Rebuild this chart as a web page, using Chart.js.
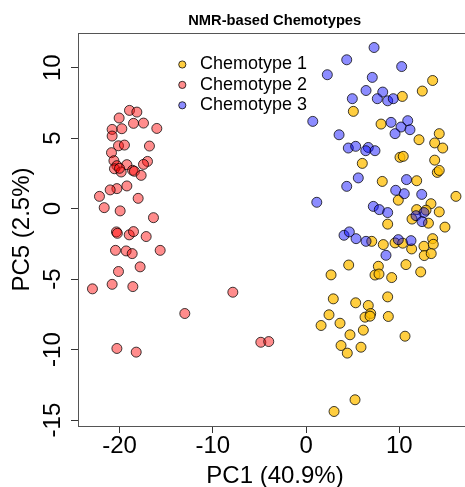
<!DOCTYPE html>
<html>
<head>
<meta charset="utf-8">
<script src="https://cdn.jsdelivr.net/npm/chart.js@4.4.1/dist/chart.umd.min.js"></script>
<style>
  html, body { margin: 0; padding: 0; background: #fff; overflow: hidden; }
  #wrap { width: 465px; height: 487px; }
  #c { display: block; }
</style>
</head>
<body>
<div id="wrap"><canvas id="c" width="465" height="487"></canvas></div>
<script>
// PCA scores (PC1 vs PC5) grouped by NMR-based chemotype
const seriesNames = ['Chemotype 1', 'Chemotype 2', 'Chemotype 3'];

const chemo1X = [13.57, 12.46, 10.32, 5.07, 8.04, 12.11, 14.28, 13.79, 14.65, 10.07, 10.42, 13.79, 6.03,
  14.07, 14.28, 8.17, 11.86, 9.89, 16.07, 13.39, 11.86, 12.86, 14.28, 11.36, 13.12, 14.89, 8.75,
  7.04, 8.28, 9.54, 10.36, 11.32, 12.64, 13.57, 13.64, 12.67, 13.42, 4.57, 10.71, 12.29, 2.68,
  7.75, 7.39, 7.82, 9.18, 2.92, 5.32, 6.67, 8.75, 2.46, 1.61, 3.64, 6.32, 6.93, 6.86, 8.82,
  4.71, 6.14, 10.61, 3.75, 4.42, 5.89, 5.25, 3.00];
const chemo1Y = [9.09, 8.34, 7.96, 6.90, 6.00, 4.89, 5.32, 4.66, 4.30, 3.64, 3.71, 3.44, 3.21,
  2.57, 2.71, 1.93, 1.98, 0.60, 0.87, 0.35, -0.07, -0.11, -0.23, -0.74, -1.03, -1.31, -1.10,
  -2.32, -2.55, -2.43, -2.45, -2.86, -2.67, -2.13, -2.53, -3.33, -3.19, -4.00, -3.97, -4.49, -4.70,
  -4.09, -4.71, -4.64, -4.89, -6.40, -6.68, -6.87, -6.26, -7.53, -8.29, -8.13, -7.70, -7.44, -7.63, -7.65,
  -8.95, -8.62, -9.05, -9.71, -10.25, -9.83, -13.56, -14.39];

const chemo2X = [-18.93, -18.14, -20.04, -18.50, -17.43, -16.00, -20.79, -19.75, -20.79, -20.11, -19.47,
  -16.79, -20.86, -20.60, -17.00, -17.43, -19.21, -20.28, -20.54, -19.82, -20.00, -18.60, -18.40,
  -17.68, -19.21, -20.28, -21.00, -22.15, -18.00, -21.64, -19.93, -16.36, -20.33, -20.23, -18.96,
  -18.50, -17.14, -20.43, -19.29, -18.64, -15.64, -17.79, -20.11, -20.79, -18.57, -22.90, -20.28,
  -18.21, -7.85, -13.00, -4.85, -4.00];
const chemo2Y = [6.97, 6.85, 6.43, 6.05, 6.07, 5.69, 5.62, 5.67, 5.15, 4.46, 4.51,
  4.44, 3.97, 3.40, 3.35, 3.14, 3.12, 3.05, 2.83, 2.60, 2.86, 2.72, 2.65,
  2.36, 1.61, 1.42, 1.33, 0.87, 0.73, 0.07, -0.16, -0.64, -1.65, -1.75, -1.86,
  -1.63, -1.98, -2.96, -3.00, -3.19, -2.96, -4.13, -4.46, -5.37, -5.53, -5.69, -9.92,
  -10.18, -5.93, -7.44, -9.48, -9.43];

const chemo3X = [7.29, 4.36, 2.28, 10.25, 7.10, 6.43, 8.22, 4.96, 7.64, 8.75, 9.35, 0.72, 9.11,
  10.90, 10.18, 11.14, 9.54, 3.54, 4.53, 5.32, 6.67, 6.40, 7.39, 5.60, 4.36, 10.77, 9.61, 10.53,
  12.40, 1.15, 7.21, 7.85, 8.75, 12.64, 11.79, 12.43, 4.07, 4.64, 5.36, 6.43, 9.89, 11.25, 8.57];
const chemo3Y = [11.43, 10.56, 9.50, 10.08, 9.31, 8.38, 8.27, 7.80, 7.80, 7.65, 7.80, 6.19, 6.12,
  6.24, 5.79, 5.60, 5.32, 5.24, 4.30, 4.42, 4.34, 4.11, 4.11, 2.18, 1.58, 2.06, 1.30, 1.06,
  1.01, 0.45, 0.16, -0.07, -0.28, -0.28, -0.50, -0.92, -1.89, -1.65, -2.13, -2.32, -2.20, -2.27, -3.31];

const xTicks = [-20, -10, 0, 10];
const yTicks = [-15, -10, -5, 0, 5, 10];

const FONT = "'Liberation Sans', Arial, Helvetica, sans-serif";
Chart.defaults.font.family = FONT;
Chart.defaults.color = '#000';

const toPoints = (xs, ys) => xs.map((x, i) => ({ x: x, y: ys[i] }));

const fills = ['rgba(255,190,0,0.75)', 'rgba(255,0,0,0.45)', 'rgba(0,0,255,0.45)'];
const edge = 'rgba(0,0,0,0.75)';

// frame top line, titles, tick labels (y ones rotated) and the in-plot key
const decor = {
  id: 'decor',
  afterDraw(chart) {
    const ctx = chart.ctx;
    const a = chart.chartArea;
    ctx.save();
    ctx.strokeStyle = '#555';
    ctx.lineWidth = 1;
    ctx.beginPath();
    ctx.moveTo(a.left, Math.round(a.top) + 0.5);
    ctx.lineTo(a.right, Math.round(a.top) + 0.5);
    ctx.stroke();

    ctx.fillStyle = '#000';
    ctx.font = 'bold 14.7px ' + FONT;
    ctx.textAlign = 'center';
    ctx.textBaseline = 'alphabetic';
    ctx.fillText('NMR-based Chemotypes', 274.7, 25);

    ctx.font = '24px ' + FONT;
    ctx.fillText('PC1 (40.9%)', 275, 482.7);

    const xs = chart.scales.x;
    xs.ticks.forEach(t => {
      ctx.fillText(String(t.value), xs.getPixelForValue(t.value), 453);
    });

    const ys = chart.scales.y;
    ys.ticks.forEach(t => {
      const py = ys.getPixelForValue(t.value);
      ctx.save();
      ctx.translate(60, py);
      ctx.rotate(-Math.PI / 2);
      ctx.textAlign = 'center';
      ctx.textBaseline = 'alphabetic';
      ctx.fillText(String(t.value), 0, 0);
      ctx.restore();
    });

    ctx.font = '18px ' + FONT;
    ctx.textAlign = 'left';
    ctx.textBaseline = 'middle';
    chart.data.datasets.forEach((ds, i) => {
      const cy = 64.5 + i * 20.4;
      ctx.beginPath();
      ctx.arc(182.3, cy, 3.6, 0, Math.PI * 2);
      ctx.fillStyle = ds.backgroundColor;
      ctx.fill();
      ctx.strokeStyle = edge;
      ctx.lineWidth = 1;
      ctx.stroke();
      ctx.fillStyle = '#000';
      ctx.fillText(ds.label, 200, cy);
    });
    ctx.restore();
  }
};

new Chart(document.getElementById('c'), {
  type: 'scatter',
  data: {
    datasets: [
      { label: seriesNames[0], data: toPoints(chemo1X, chemo1Y), backgroundColor: fills[0], borderColor: edge, borderWidth: 1, pointRadius: 5, order: 2 },
      { label: seriesNames[1], data: toPoints(chemo2X, chemo2Y), backgroundColor: fills[1], borderColor: edge, borderWidth: 1, pointRadius: 5, order: 1 },
      { label: seriesNames[2], data: toPoints(chemo3X, chemo3Y), backgroundColor: fills[2], borderColor: edge, borderWidth: 1, pointRadius: 5, order: 0 }
    ]
  },
  options: {
    responsive: false,
    animation: false,
    devicePixelRatio: 1,
    layout: { autoPadding: false, padding: { top: 33, left: 0, bottom: 0, right: 0 } },
    plugins: { legend: { display: false }, tooltip: { enabled: false }, title: { display: false } },
    scales: {
      x: {
        type: 'linear',
        position: 'bottom',
        min: -24.45,
        max: 17.04,
        afterFit: s => { s.height = 61; },
        afterBuildTicks: s => { s.ticks = xTicks.map(v => ({ value: v })); },
        grid: { display: true, drawOnChartArea: false, drawTicks: true, tickLength: 7, color: '#333', lineWidth: 1 },
        border: { display: true, color: '#555', width: 1 },
        ticks: { display: false }
      },
      y: {
        type: 'linear',
        position: 'left',
        min: -15.42,
        max: 12.46,
        afterFit: s => { s.width = 78; },
        afterBuildTicks: s => { s.ticks = yTicks.map(v => ({ value: v })); },
        grid: { display: true, drawOnChartArea: false, drawTicks: true, tickLength: 7, color: '#333', lineWidth: 1 },
        border: { display: true, color: '#555', width: 1 },
        ticks: { display: false },
        title: { display: true, text: 'PC5 (2.5%)', color: '#000', font: { size: 24, lineHeight: 1 }, padding: { top: 10.5, bottom: 0 } }
      }
    }
  },
  plugins: [decor]
});
</script>
</body>
</html>
